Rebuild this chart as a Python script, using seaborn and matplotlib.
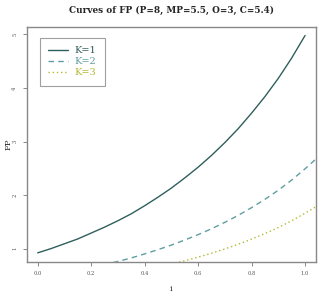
import pandas as pd
import matplotlib
matplotlib.use("Agg")
import matplotlib.pyplot as plt
import seaborn as sns

# values
i_vals = [0.0, 0.05, 0.1, 0.15, 0.2, 0.25, 0.3, 0.35, 0.4, 0.45, 0.5,
          0.55, 0.6, 0.65, 0.7, 0.75, 0.8, 0.85, 0.9, 0.95, 1.0]
fp_k1 = [0.92, 1.00, 1.09, 1.18, 1.29, 1.40, 1.52, 1.65, 1.80, 1.96, 2.13,
         2.32, 2.52, 2.74, 2.98, 3.24, 3.53, 3.84, 4.18, 4.56, 4.98]

# K=2 and K=3 run across the whole plot width and get clipped by the box
i_wide = [-0.04] + i_vals + [1.04]
fp_k2 = [0.43, 0.46, 0.50, 0.545, 0.59, 0.645, 0.70, 0.76, 0.825, 0.90, 0.98, 1.065,
         1.16, 1.26, 1.37, 1.49, 1.62, 1.765, 1.92, 2.09, 2.28, 2.49, 2.67]
fp_k3 = [0.29, 0.307, 0.333, 0.363, 0.393, 0.43, 0.467, 0.507, 0.55, 0.60, 0.653, 0.71,
         0.773, 0.84, 0.913, 0.993, 1.08, 1.177, 1.28, 1.393, 1.52, 1.66, 1.78]

labels = ["K=1", "K=2", "K=3"]
colors = ["#2f5f5c", "#5f9ea0", "#b5b832"]
styles = ["-", (0, (4, 3)), (0, (1, 2))]

df = pd.concat([
    pd.DataFrame({"i": i_vals, "FP": fp_k1, "K": labels[0]}),
    pd.DataFrame({"i": i_wide, "FP": fp_k2, "K": labels[1]}),
    pd.DataFrame({"i": i_wide, "FP": fp_k3, "K": labels[2]}),
])

sns.set_theme(style="white")
plt.rcParams["font.family"] = ["DejaVu Serif"]

fig = plt.figure(figsize=(3.3, 2.96), dpi=100)
ax = fig.add_axes([0.0818, 0.1159, 0.875, 0.793])

for lab, col, ls in zip(labels, colors, styles):
    sub = df[df["K"] == lab]
    sns.lineplot(data=sub, x="i", y="FP", color=col, linestyle=ls, linewidth=1.0,
                 ax=ax, label=lab, sort=False)

ax.set_xlim(-0.04, 1.04)
ax.set_ylim(0.755, 5.14)
ax.set_xticks([0.0, 0.2, 0.4, 0.6, 0.8, 1.0])
ax.set_xticklabels(["0.0", "0.2", "0.4", "0.6", "0.8", "1.0"])
ax.set_yticks([1, 2, 3, 4, 5])
ax.tick_params(axis="both", direction="out", length=3, width=0.7, color="#888888",
               labelsize=3.8, labelcolor="#555555", pad=4, bottom=True, left=True)
for t in ax.get_yticklabels():
    t.set_rotation(90)
    t.set_va("center")
for sp in ax.spines.values():
    sp.set_color("#888888")
    sp.set_linewidth(1.0)

ax.set_xlabel("i", fontsize=6, labelpad=6)
ax.set_ylabel("FP", fontsize=6)
ax.yaxis.set_label_coords(-0.05, 0.5)
ax.set_title("Curves of FP (P=8, MP=5.5, O=3, C=5.4)", fontsize=6.4, fontweight="bold", pad=10)

leg = ax.legend(loc="upper left", bbox_to_anchor=(0.045, 0.952), fontsize=7,
                frameon=True, fancybox=False, edgecolor="#888888", handlelength=2.0,
                borderpad=0.85, labelspacing=0.2, handletextpad=0.7, borderaxespad=0)
leg.get_frame().set_linewidth(0.8)
for txt, col in zip(leg.get_texts(), colors):
    txt.set_color(col)

fig.savefig("out.png", dpi=100)
